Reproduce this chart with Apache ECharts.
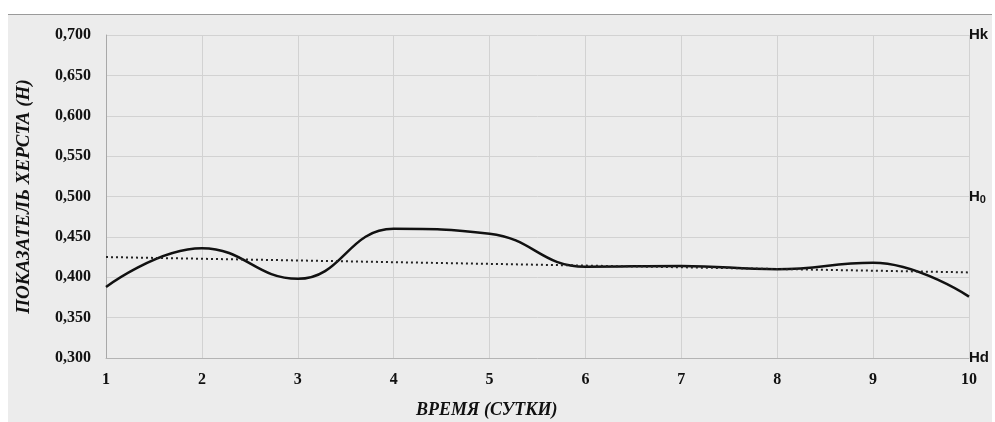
<!DOCTYPE html>
<html>
<head>
<meta charset="utf-8">
<script src="https://cdn.jsdelivr.net/npm/echarts@6/dist/echarts.min.js"></script>
<style>
  html, body { margin: 0; padding: 0; background: #fff; }
  #frame { position: absolute; left: 8px; top: 14px; width: 984px; height: 408px;
           background: #ececec; border-top: 1px solid #9a9a9a; box-sizing: border-box; }
  #chart { position: absolute; left: 0; top: 0; width: 995px; height: 422px; }
</style>
</head>
<body>
<div id="frame"></div>
<div id="chart"></div>
<script>
// days on the x axis
const days = [1, 2, 3, 4, 5, 6, 7, 8, 9, 10];
// Hurst exponent
const hurst = [0.388, 0.436, 0.398, 0.460, 0.454, 0.413, 0.414, 0.410, 0.418, 0.376];
// linear trend, ends at day 1 and day 10
const trendDays = [1, 10];
const trendValues = [0.425, 0.406];
// y tick range
const yMin = 0.3, yMax = 0.7, yStep = 0.05;
// right side marks
const rightMarks = { '0.7': 'Hk', '0.5': '{b|H}{s|0}', '0.3': 'Hd' };

const serif = '"Liberation Serif", "DejaVu Serif", serif';

const chart = echarts.init(document.getElementById('chart'), null, { renderer: 'canvas' });

chart.setOption({
  animation: false,
  backgroundColor: 'transparent',
  grid: { left: 106, right: 26, top: 35, bottom: 64, outerBoundsMode: 'none' },
  xAxis: {
    type: 'value',
    min: 1,
    max: 10,
    interval: 1,
    axisLine: { lineStyle: { color: '#b4b4b4', width: 1 } },
    axisTick: { show: false },
    axisLabel: {
      margin: 14,
      color: '#111',
      fontFamily: serif,
      fontWeight: 'bold',
      fontSize: 16
    },
    splitLine: { show: true, lineStyle: { color: '#d2d2d2', width: 1 } }
  },
  yAxis: [{
    type: 'value',
    min: yMin,
    max: yMax,
    interval: yStep,
    axisLine: { show: true, lineStyle: { color: '#a8a8a8', width: 1 } },
    axisTick: { show: false },
    axisLabel: {
      margin: 15,
      color: '#111',
      fontFamily: serif,
      fontWeight: 'bold',
      fontSize: 16,
      formatter: v => v.toFixed(3).replace('.', ',')
    },
    splitLine: { lineStyle: { color: '#d2d2d2', width: 1 } },
    name: 'ПОКАЗАТЕЛЬ ХЕРСТА (H)',
    nameLocation: 'middle',
    nameRotate: 90,
    nameGap: 72,
    nameTextStyle: {
      color: '#111',
      fontFamily: serif,
      fontWeight: 'bold',
      fontStyle: 'italic',
      fontSize: 19
    }
  }, {
    type: 'value',
    position: 'right',
    min: yMin,
    max: yMax,
    interval: yStep,
    axisLine: { show: false },
    axisTick: { show: false },
    splitLine: { show: false },
    axisLabel: {
      margin: 0,
      color: '#111',
      fontFamily: 'Liberation Sans, Arial, sans-serif',
      fontWeight: 'bold',
      fontSize: 15,
      formatter: v => rightMarks[String(Math.round(v * 100) / 100)] || '',
      rich: {
        b: { fontFamily: 'Liberation Sans', fontWeight: 'bold', fontSize: 15, color: '#111' },
        s: { fontFamily: 'Liberation Sans', fontWeight: 'bold', fontSize: 11, color: '#111', padding: [7, 0, 0, 0] }
      }
    }
  }],
  graphic: [{
    type: 'text',
    left: 416,
    top: 401,
    style: {
      text: 'ВРЕМЯ (СУТКИ)',
      fill: '#111',
      font: 'italic bold 18px ' + serif
    }
  }],
  series: [{
    type: 'line',
    smooth: 0.45,
    symbol: 'none',
    lineStyle: { color: '#111', width: 2.5 },
    data: days.map((d, i) => [d, hurst[i]])
  }, {
    type: 'line',
    symbol: 'none',
    lineStyle: { color: '#222', width: 2, type: [2, 3] },
    data: trendDays.map((d, i) => [d, trendValues[i]])
  }]
});
</script>
</body>
</html>
